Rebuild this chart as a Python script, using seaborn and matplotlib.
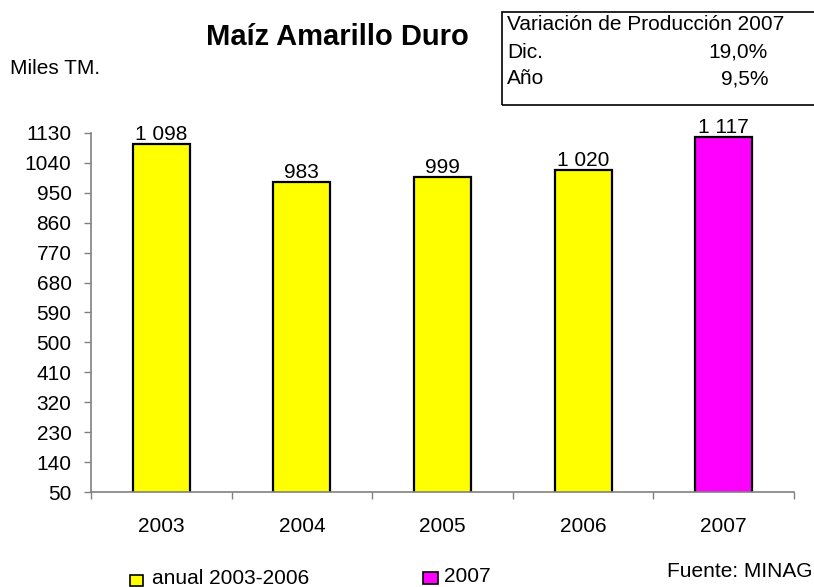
import matplotlib
matplotlib.use("Agg")
import matplotlib.pyplot as plt
import seaborn as sns
import pandas as pd
from matplotlib.patches import Rectangle
from matplotlib.ticker import FixedLocator

years = ["2003", "2004", "2005", "2006", "2007"]
values = [1098, 983, 999, 1020, 1117]
labels = ["1 098", "983", "999", "1 020", "1 117"]
bar_colors = ["#FFFF00", "#FFFF00", "#FFFF00", "#FFFF00", "#FF00FF"]
y_ticks = list(range(50, 1131, 90))
table_lines = [("Dic.", "19,0%"), ("Año", "9,5%")]

sns.set_theme(style="white")
plt.rcParams["font.family"] = ["Liberation Sans", "DejaVu Sans"]
plt.rcParams["text.color"] = "black"
plt.rcParams["xtick.labelcolor"] = "black"
plt.rcParams["ytick.labelcolor"] = "black"

FS = 15
W, H = 814, 587
fig = plt.figure(figsize=(W / 100, H / 100), dpi=100)
ax = fig.add_axes([91 / W, 1 - 492 / H, (794 - 91) / W, (492 - 133) / H])

df = pd.DataFrame({"year": years, "value": values})
sns.barplot(data=df, x="year", y="value", hue="year", palette=bar_colors,
            dodge=False, legend=False, width=0.405, edgecolor="black",
            linewidth=1.6, saturation=1, ax=ax)

ax.set_ylim(50, 1130)
ax.set_xlim(-0.5, 4.5)
ax.set_yticks(y_ticks)
ax.set_xlabel("")
ax.set_ylabel("")
for s in ["top", "right"]:
    ax.spines[s].set_visible(False)
for s in ["left", "bottom"]:
    ax.spines[s].set_color("#808080")
    ax.spines[s].set_linewidth(1.2)

ax.tick_params(axis="y", direction="out", length=5, width=1, color="#808080",
               labelsize=FS, pad=9, left=True, labelcolor="black")
ax.xaxis.set_minor_locator(FixedLocator([-0.5, 0.5, 1.5, 2.5, 3.5, 4.5]))
ax.tick_params(axis="x", which="major", length=0, pad=18, labelsize=FS,
               labelcolor="black")
ax.tick_params(axis="x", which="minor", direction="out", length=5, width=1,
               color="#808080", bottom=True)

for i, (v, lab) in enumerate(zip(values, labels)):
    ax.annotate(lab, (i, v), xytext=(0, 0), textcoords="offset points",
                ha="center", va="bottom", fontsize=FS, color="black")

def fy(py):
    return 1 - py / H

fig.text(337 / W, fy(37), "Maíz Amarillo Duro", ha="center", va="center",
         fontsize=21, fontweight="bold")
fig.text(10 / W, fy(68), "Miles TM.", ha="left", va="center", fontsize=FS)

fig.patches.append(Rectangle((502 / W, fy(105)), (840 - 502) / W, (105 - 12) / H,
                             transform=fig.transFigure, fill=False,
                             edgecolor="black", linewidth=1.2, clip_on=False))
fig.text(507 / W, fy(24), "Variación de Producción 2007", ha="left",
         va="center", fontsize=FS)
for k, (a, b) in enumerate(table_lines):
    yy = fy(52 + 27 * k)
    fig.text(507 / W, yy, a, ha="left", va="center", fontsize=FS)
    fig.text(768 / W, yy, b, ha="right", va="center", fontsize=FS)

# legend
fig.patches.append(Rectangle((130 / W, fy(586)), 13 / W, 11 / H,
                             transform=fig.transFigure, facecolor="#FFFF00",
                             edgecolor="black", linewidth=1.2))
fig.text(152 / W, fy(584), "anual 2003-2006", ha="left", va="baseline",
         fontsize=FS)
fig.patches.append(Rectangle((423 / W, fy(584)), 15 / W, 12 / H,
                             transform=fig.transFigure, facecolor="#FF00FF",
                             edgecolor="black", linewidth=1.2))
fig.text(444 / W, fy(582), "2007", ha="left", va="baseline", fontsize=FS)
fig.text(812 / W, fy(577), "Fuente: MINAG", ha="right", va="baseline",
         fontsize=FS)

fig.savefig("out.png", dpi=100)
